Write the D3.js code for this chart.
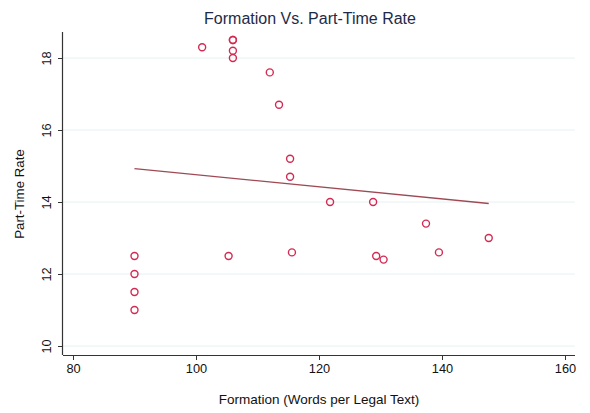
<!DOCTYPE html>
<html>
<head>
<meta charset="utf-8">
<script src="https://cdn.jsdelivr.net/npm/d3@7"></script>
<style>
  body { margin: 0; background: #fff; }
  text { font-family: "Liberation Sans", Arial, sans-serif; }
</style>
</head>
<body>
<svg id="chart" width="590" height="413"></svg>
<script>
// data
const formation = [90, 90, 90, 90, 101, 106, 106, 106, 106, 112, 113.5, 115.3, 115.3,
  121.8, 128.8, 137.4, 147.6, 105.3, 115.6, 129.3, 130.5, 139.5];
const partTime = [12.5, 12, 11.5, 11, 18.3, 18.5, 18.5, 18.2, 18, 17.6, 16.7, 15.2, 14.7,
  14, 14, 13.4, 13, 12.5, 12.6, 12.5, 12.4, 12.6];
const xTicks = [80, 100, 120, 140, 160];
const yTicks = [10, 12, 14, 16, 18];

const svg = d3.select("#chart");

// plot area
const plotLeft = 63, plotRight = 575, plotTop = 32, plotBottom = 355;

const x = d3.scaleLinear().domain([80, 160]).range([73, 565]);
const y = d3.scaleLinear().domain([10, 18]).range([346, 58]);

// grid lines
svg.append("g")
  .selectAll("line")
  .data(yTicks)
  .enter()
  .append("line")
  .attr("x1", plotLeft)
  .attr("x2", plotRight)
  .attr("y1", d => y(d))
  .attr("y2", d => y(d))
  .attr("stroke", "#e6f0f2")
  .attr("stroke-width", 1);

// axes
const xAxis = svg.append("g")
  .attr("transform", "translate(0," + plotBottom + ")")
  .call(d3.axisBottom(x).tickValues(xTicks).tickSize(5).tickPadding(4).tickSizeOuter(0));
xAxis.select(".domain").attr("d", "M" + plotLeft + ",0.5H" + plotRight);

const yAxis = svg.append("g")
  .attr("transform", "translate(" + plotLeft + ",0)")
  .call(d3.axisLeft(y).tickValues(yTicks).tickSize(5).tickSizeOuter(0));
yAxis.select(".domain").attr("d", "M-0.5," + plotTop + "V" + plotBottom);

svg.selectAll(".domain").attr("stroke", "#333").attr("stroke-width", 1.2);
svg.selectAll(".tick line").attr("stroke", "#333");
xAxis.selectAll("text").attr("font-size", 12.8).attr("fill", "#111");
yAxis.selectAll("text")
  .attr("font-size", 12.8)
  .attr("fill", "#111")
  .attr("text-anchor", "middle")
  .attr("transform", "rotate(-90)")
  .attr("x", 0)
  .attr("y", -16)
  .attr("dy", "0.35em");

// fitted line (least squares)
const mx = d3.mean(formation), my = d3.mean(partTime);
let sxy = 0, sxx = 0;
formation.forEach((v, i) => {
  sxy += (v - mx) * (partTime[i] - my);
  sxx += (v - mx) * (v - mx);
});
const slope = sxy / sxx;
const x0 = d3.min(formation), x1 = d3.max(formation);
const fit = [[x0, my + slope * (x0 - mx)], [x1, my + slope * (x1 - mx)]];

svg.append("path")
  .datum(fit)
  .attr("d", d3.line().x(d => x(d[0])).y(d => y(d[1])))
  .attr("fill", "none")
  .attr("stroke", "#9e4a55")
  .attr("stroke-width", 1.3);

// points
svg.append("g")
  .selectAll("circle")
  .data(formation)
  .enter()
  .append("circle")
  .attr("cx", d => x(d))
  .attr("cy", (d, i) => y(partTime[i]))
  .attr("r", 3.5)
  .attr("fill", "none")
  .attr("stroke", "#d42a52")
  .attr("stroke-width", 1.4);

// titles
svg.append("text")
  .attr("x", 310)
  .attr("y", 24)
  .attr("text-anchor", "middle")
  .attr("font-size", 16)
  .attr("fill", "#1e2b48")
  .text("Formation Vs. Part-Time Rate");

svg.append("text")
  .attr("x", 319)
  .attr("y", 404)
  .attr("text-anchor", "middle")
  .attr("font-size", 13.5)
  .attr("fill", "#111")
  .text("Formation (Words per Legal Text)");

svg.append("text")
  .attr("transform", "translate(24,194) rotate(-90)")
  .attr("text-anchor", "middle")
  .attr("font-size", 13.3)
  .attr("fill", "#111")
  .text("Part-Time Rate");
</script>
</body>
</html>
